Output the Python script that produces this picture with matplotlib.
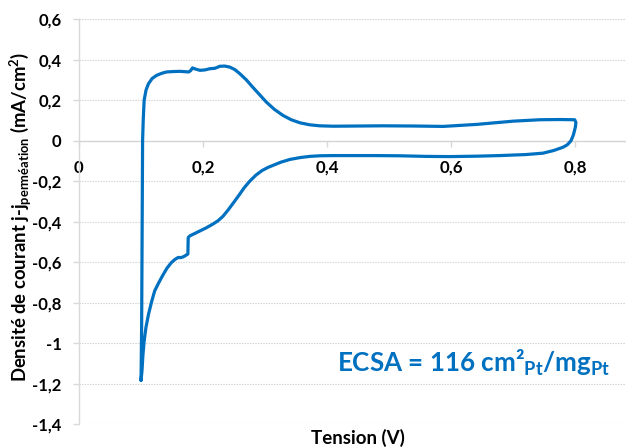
import matplotlib
matplotlib.use("Agg")
import matplotlib.pyplot as plt
import numpy as np

plt.rcParams['font.family'] = ['Lato', 'DejaVu Sans']
plt.rcParams['mathtext.fontset'] = 'custom'
plt.rcParams['mathtext.rm'] = 'Lato'
plt.rcParams['mathtext.bf'] = 'Lato:bold'

# Cyclic voltammogram: anodic sweep (upper) then cathodic sweep (lower)
tension = [0.100, 0.1010, 0.1015, 0.1020, 0.1025, 0.1035, 0.105, 0.108, 0.112, 0.118, 0.125,
           0.133, 0.141, 0.152, 0.163, 0.172, 0.177, 0.180, 0.183, 0.187, 0.195, 0.203, 0.211,
           0.219, 0.227, 0.235, 0.243, 0.251, 0.259, 0.270, 0.280, 0.291, 0.302, 0.315, 0.329,
           0.342, 0.356, 0.372, 0.388, 0.410, 0.450, 0.490, 0.540, 0.587, 0.641, 0.700, 0.743,
           0.775, 0.799, 0.801, 0.800, 0.797, 0.793, 0.787, 0.780, 0.765, 0.748, 0.720, 0.678,
           0.640, 0.598, 0.560, 0.517, 0.477, 0.437, 0.410, 0.388, 0.372, 0.356, 0.340, 0.325,
           0.313, 0.305, 0.295, 0.285, 0.275, 0.266, 0.258, 0.249, 0.240, 0.232, 0.224, 0.216,
           0.205, 0.195, 0.187, 0.179, 0.1765, 0.176, 0.1755, 0.172, 0.168, 0.164, 0.160, 0.155,
           0.149, 0.142, 0.136, 0.129, 0.122, 0.117, 0.112, 0.108, 0.105, 0.103, 0.1015, 0.100]
courant = [-1.183, -0.90, -0.60, -0.30, 0.000, 0.100, 0.200, 0.250, 0.282, 0.308, 0.323,
           0.333, 0.340, 0.342, 0.343, 0.341, 0.340, 0.347, 0.360, 0.355, 0.348, 0.350, 0.356,
           0.358, 0.368, 0.369, 0.364, 0.352, 0.332, 0.300, 0.265, 0.228, 0.191, 0.155, 0.125,
           0.104, 0.089, 0.079, 0.074, 0.072, 0.073, 0.074, 0.073, 0.071, 0.081, 0.097, 0.104,
           0.105, 0.104, 0.090, 0.067, 0.030, 0.000, -0.020, -0.032, -0.048, -0.061, -0.068, -0.073,
           -0.076, -0.078, -0.077, -0.074, -0.073, -0.073, -0.073, -0.074, -0.077, -0.083, -0.092, -0.106,
           -0.121, -0.131, -0.147, -0.170, -0.200, -0.233, -0.268, -0.306, -0.343, -0.373, -0.395, -0.411,
           -0.430, -0.445, -0.457, -0.469, -0.476, -0.480, -0.559, -0.566, -0.573, -0.577, -0.576, -0.585,
           -0.601, -0.628, -0.659, -0.698, -0.741, -0.795, -0.857, -0.920, -0.989, -1.060, -1.137, -1.183]

xticks = [0, 0.2, 0.4, 0.6, 0.8]
xtick_labels = ['0', '0,2', '0,4', '0,6', '0,8']
yticks = [0.6, 0.4, 0.2, 0, -0.2, -0.4, -0.6, -0.8, -1.0, -1.2, -1.4]
ytick_labels = ['0,6', '0,4', '0,2', '0', '-0,2', '-0,4', '-0,6', '-0,8', '-1', '-1,2', '-1,4']

W, H = 626, 448
fig = plt.figure(figsize=(W / 100, H / 100), dpi=100)
ax = fig.add_axes([79 / W, 1 - 424.3 / H, 1 - 79 / W, (424.3 - 19.3) / H])

blue = '#0070C0'
grey = '#d9d9d9'
ax.plot(tension, courant, color=blue, lw=2.3, solid_joinstyle='round', solid_capstyle='round', zorder=3)

ax.set_xlim(0, 547 / 620.4)
ax.set_ylim(-1.4, 0.6)

ax.set_yticks(yticks)
ax.set_yticklabels(ytick_labels)
ax.set_xticks(xticks)
ax.set_xticklabels(xtick_labels)

ax.yaxis.grid(True, color='#d0d0d0', linestyle=(0, (1.2, 1.2)), linewidth=0.8)
ax.xaxis.grid(False)

for s in ['top', 'right']:
    ax.spines[s].set_visible(False)
ax.spines['bottom'].set_position(('data', 0))
ax.spines['bottom'].set_color(grey)
ax.spines['left'].set_color(grey)
ax.spines['bottom'].set_linewidth(1.0)
ax.spines['left'].set_linewidth(1.0)
ax.spines['bottom'].set_zorder(1)

ax.tick_params(axis='x', direction='out', length=4.5, width=1.0, color=grey, pad=9,
               labelsize=12.2, labelcolor='black')
ax.tick_params(axis='y', direction='out', length=4.5, width=1.0, color=grey, pad=8,
               labelsize=12.0, labelcolor='black')
for lab in ax.get_xticklabels() + ax.get_yticklabels():
    lab.set_fontweight('bold')

fig.text(358 / W, 1 - 438 / H, 'Tension (V)', ha='center', va='center',
         fontsize=13.5, fontweight='bold')

fig.text(21 / W, 1 - 217 / H,
         r'Densité de courant j-j$_{\mathregular{perméation}}$ (mA/cm$^{\mathbf{2}}$)',
         rotation=90, ha='center', va='center', fontsize=13.3, fontweight='bold')

fig.text(337 / W, 1 - 371.7 / H,
         r'ECSA = 116 cm²$_{\mathbf{Pt}}$/mg$_{\mathbf{Pt}}$',
         ha='left', va='baseline', fontsize=18.7, fontweight='bold', color=blue)

fig.savefig('out.png', dpi=100)
